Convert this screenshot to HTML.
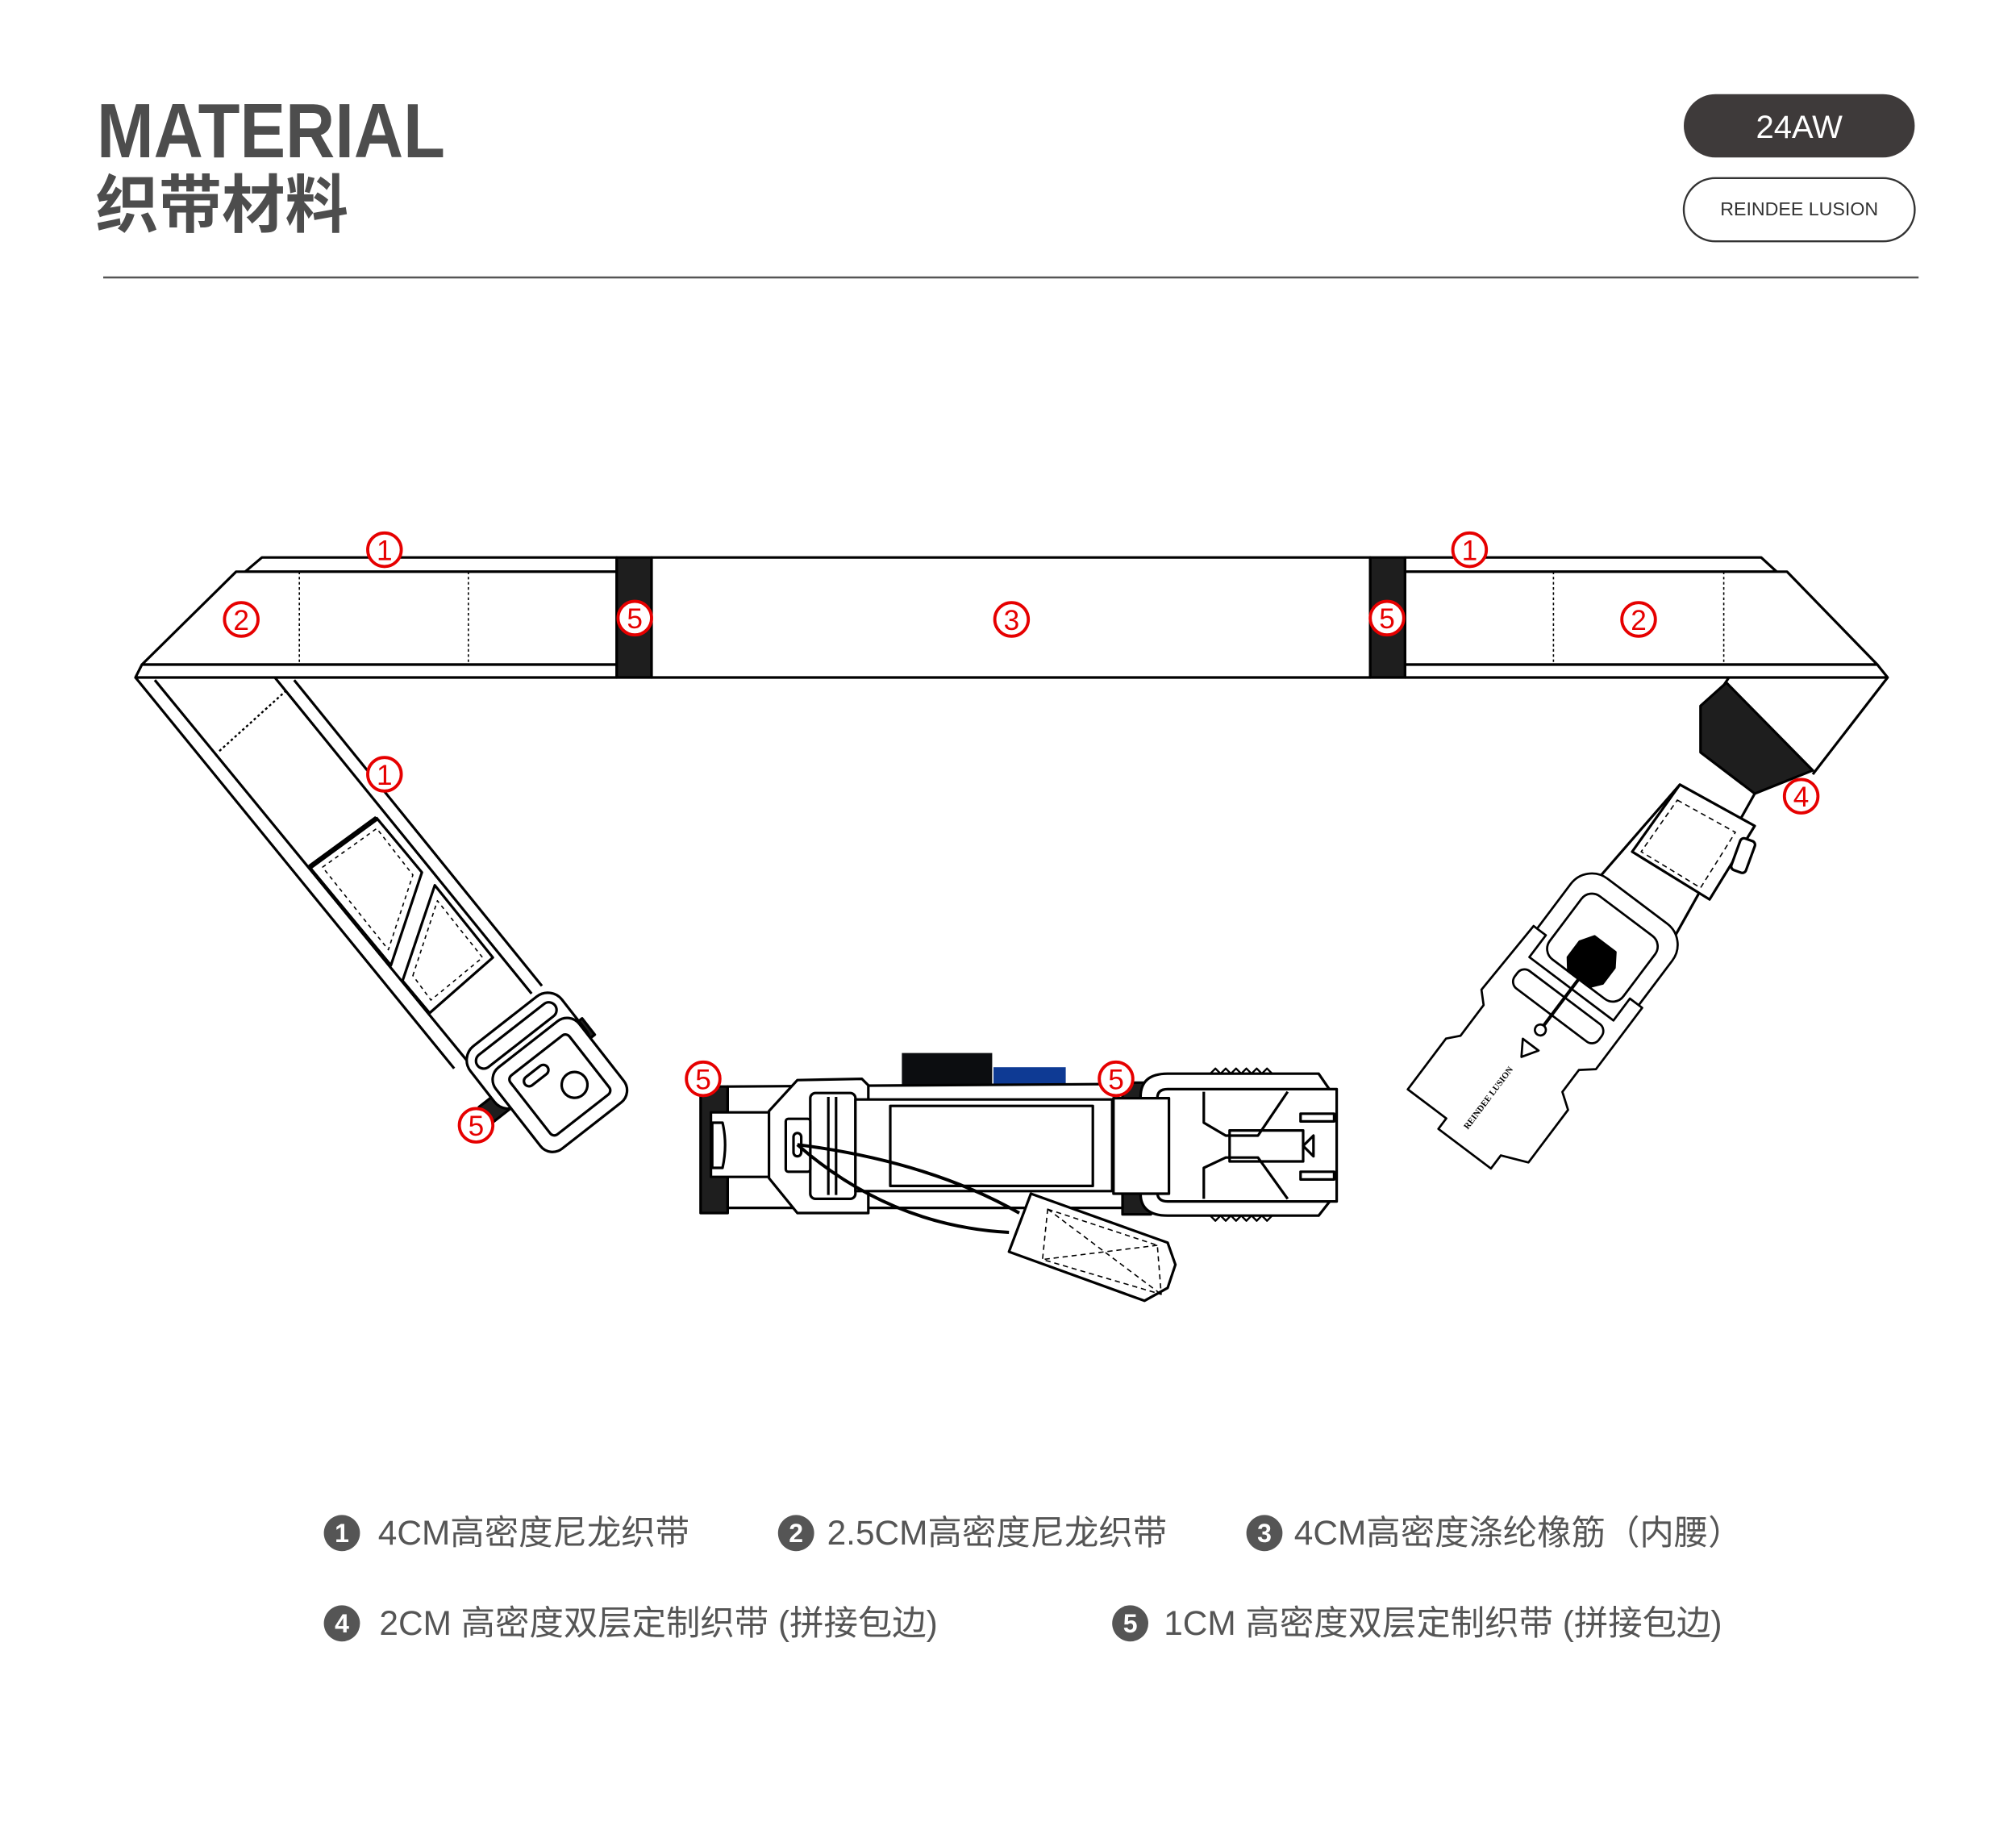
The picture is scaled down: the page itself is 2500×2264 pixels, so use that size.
<!DOCTYPE html>
<html><head><meta charset="utf-8"><style>
html,body{margin:0;padding:0;background:#fff;}
svg{display:block;}
</style></head><body>
<svg width="2500" height="2264" viewBox="0 0 1562.5 1415" preserveAspectRatio="none" xmlns="http://www.w3.org/2000/svg" font-family="'Liberation Sans','Noto Sans CJK SC',sans-serif">
<rect width="1562.5" height="1415" fill="#fff"/>
<!-- header -->
<text x="75" y="122" font-size="60" font-weight="bold" fill="#4d4d4d" textLength="270" lengthAdjust="spacingAndGlyphs">MATERIAL</text>
<text x="74" y="176" font-size="49" font-weight="bold" fill="#4d4d4d">织带材料</text>
<rect x="1305" y="73" width="179" height="49" rx="24.5" fill="#3e3a3a"/>
<text x="1394.5" y="107" font-size="25" fill="#fff" text-anchor="middle">24AW</text>
<rect x="1305" y="138" width="179" height="49" rx="24.5" fill="#fff" stroke="#333" stroke-width="1.5"/>
<text x="1394.5" y="167" font-size="14.5" fill="#333" text-anchor="middle">REINDEE LUSION</text>
<line x1="80" y1="215" x2="1487" y2="215" stroke="#555" stroke-width="1.5"/>

<g stroke="#000" stroke-width="2" fill="#fff" stroke-linejoin="round">
<!-- left strap diagonal -->
<line x1="105" y1="525" x2="352" y2="828"/>
<line x1="120" y1="527" x2="362" y2="822"/>
<line x1="213" y1="525" x2="412" y2="770"/>
<line x1="228" y1="527" x2="420" y2="764"/>
<polyline points="170,582 222,535" stroke-dasharray="2,2" stroke-width="1.5" fill="none"/>
<line x1="240" y1="672" x2="292" y2="634" stroke-width="4"/>
<polygon points="240,672 292,634 327,676 303,748" fill="none"/>
<polygon points="250,672 292,642 320,678 301,736" fill="none" stroke-dasharray="3,3" stroke-width="1"/>
<polygon points="312,760 337,686 382,742 333,785" fill="none"/>
<polygon points="320,756 339,698 374,742 334,775" fill="none" stroke-dasharray="3,3" stroke-width="1"/>
<!-- left buckle -->
<rect x="440" y="793" width="18" height="16" fill="#1e1e1e" transform="rotate(-38 449 801)"/>
<rect x="374" y="850" width="20" height="16" fill="#1e1e1e" transform="rotate(-38 384 858)"/>
<g transform="translate(410,815) rotate(-38)">
<rect x="-45" y="-30" width="90" height="58" rx="14"/>
<rect x="-38" y="-22" width="76" height="12" rx="6"/>
<rect x="-38" y="-5" width="82" height="80" rx="12"/>
<rect x="-26" y="6" width="58" height="58" rx="4"/>
<rect x="-18" y="14" width="22" height="8" rx="4"/>
<circle cx="12" cy="42" r="10"/>
</g>
<!-- top strap left -->
<polygon points="190,443 203,432 478,432 478,443"/>
<polygon points="183,443 478,443 478,515 110,515"/>
<polygon points="110,515 478,515 478,525 105,525"/>
<line x1="232" y1="443" x2="232" y2="515" stroke-dasharray="2,2" stroke-width="1"/>
<line x1="363" y1="443" x2="363" y2="515" stroke-dasharray="2,2" stroke-width="1"/>
<rect x="478" y="432" width="27" height="93" fill="#1e1e1e"/>
<rect x="505" y="432" width="557" height="93"/>
<rect x="1062" y="432" width="27" height="93" fill="#1e1e1e"/>
<polygon points="1089,432 1365,432 1377,443 1089,443"/>
<polygon points="1089,443 1385,443 1455,515 1089,515"/>
<polygon points="1089,515 1455,515 1463,525 1089,525"/>
<line x1="1204" y1="443" x2="1204" y2="515" stroke-dasharray="2,2" stroke-width="1"/>
<line x1="1336" y1="443" x2="1336" y2="515" stroke-dasharray="2,2" stroke-width="1"/>
<!-- right strap -->
<line x1="1340" y1="525" x2="1330" y2="540"/>
<line x1="1463" y1="525" x2="1405" y2="600"/>
<polygon points="1338,529 1318,547 1318,583 1360,615 1405,597" fill="#1e1e1e"/>
<line x1="1302" y1="608" x2="1222" y2="700"/>
<line x1="1360" y1="615" x2="1290" y2="740"/>
<polygon points="1302,608 1360,640 1325,697 1265,660"/>
<polygon points="1300,620 1345,645 1318,688 1272,660" fill="none" stroke-dasharray="4,3" stroke-width="1"/>
<rect x="1345" y="650" width="12" height="26" rx="3" transform="rotate(20 1351 663)"/>
<g transform="translate(1200,790) rotate(37) scale(0.85)">
<rect x="-58" y="-135" width="116" height="105" rx="24"/>
<rect x="-42" y="-118" width="84" height="72" rx="12"/>
<path d="M-62,-60 L-48,-60 L-48,-35 L48,-35 L48,-60 L62,-60 L62,10 L50,20 L50,45 L64,55 L64,115 L40,125 L40,140 L-20,140 L-20,128 L-64,128 L-64,70 L-55,60 L-55,25 L-65,15 Z"/>
<rect x="-48" y="-25" width="96" height="20" rx="8"/>
<polygon points="-8,28 10,28 1,42" fill="#fff"/>
<line x1="0" y1="-68" x2="0" y2="10" stroke-width="3"/>
<circle cx="0" cy="12" r="5"/>
<polygon points="-12,-86 12,-86 20,-74 20,-56 12,-46 -12,-46 -20,-56 -20,-74" fill="#000"/>
<text x="2" y="90" font-size="8" fill="#000" stroke="none" font-family="'Liberation Serif',serif" font-weight="bold" text-anchor="middle" transform="rotate(-90 2 90)">REINDEE LUSION</text>
</g>
<!-- center buckle -->
<rect x="543" y="842" width="21" height="98" fill="#1e1e1e"/>
<rect x="870" y="839" width="22" height="102" fill="#1e1e1e"/>
<rect x="699" y="816" width="70" height="27" fill="#0c0d10" stroke="none"/>
<rect x="770" y="827" width="56" height="15" fill="#0e3a94" stroke="none"/>
<path d="M564,842 L870,840 L870,936 L564,936 Z"/>
<path d="M551,862 L596,862 L596,912 L551,912 Z"/>
<path d="M552,870 L560,870 Q564,887 560,905 L552,905 Z"/>
<path d="M596,861 L618,837 L668,836 L673,841 L673,940 L618,940 L596,913 Z"/>
<rect x="628" y="847" width="35" height="82" rx="4"/>
<line x1="642" y1="850" x2="642" y2="926"/>
<line x1="648" y1="850" x2="648" y2="926"/>
<rect x="609" y="867" width="19" height="41" rx="2"/>
<rect x="615" y="878" width="6" height="18" rx="3"/>
<path d="M663,852 L862,852 L862,923 L663,923 Z"/>
<rect x="690" y="857" width="157" height="62"/>
<path d="M884,850 Q884,832 905,832 L1022,832 L1033,848 L1033,928 L1022,942 L905,942 Q884,942 884,925 Z"/>
<path d="M938,832 l4,-4 l4,4 l4,-4 l4,4 l4,-4 l4,4 l4,-4 l4,4 l4,-4 l4,4 l4,-4 l4,4 M938,942 l4,4 l4,-4 l4,4 l4,-4 l4,4 l4,-4 l4,4 l4,-4 l4,4 l4,-4 l4,4 l4,-4" fill="none" stroke-width="1.5"/>
<path d="M897,851 Q897,844 905,844 L1036,844 L1036,931 L905,931 Q897,931 897,924 Z"/>
<path d="M933,846 L933,870 L950,880 L975,880 L998,846 M933,929 L933,905 L950,897 L975,897 L998,929" fill="none"/>
<rect x="953" y="876" width="57" height="24" fill="none"/>
<polygon points="1010,888 1018,880 1018,896" fill="#fff"/>
<rect x="1008" y="863" width="26" height="6"/>
<rect x="1008" y="908" width="26" height="6"/>
<rect x="863" y="851" width="43" height="74"/>
<path d="M618,887 Q720,900 790,940" fill="none" stroke-width="2.5"/>
<path d="M618,887 Q690,950 782,955" fill="none" stroke-width="2.5"/>
<polygon points="799,925 905,963 911,980 905,998 887,1008 782,970"/>
<polygon points="812,937 897,965 900,1003 808,976" fill="none" stroke-dasharray="4,3" stroke-width="1"/>
<line x1="812" y1="937" x2="900" y2="1003" stroke-dasharray="4,3" stroke-width="1"/>
<line x1="897" y1="965" x2="808" y2="976" stroke-dasharray="4,3" stroke-width="1"/>
</g>

<!-- red markers -->
<g fill="#fff" stroke="#e60000" stroke-width="2.4">
<circle cx="298" cy="426" r="13"/><circle cx="187" cy="480" r="13"/>
<circle cx="492" cy="479" r="13"/><circle cx="784" cy="480" r="13"/>
<circle cx="1075" cy="479" r="13"/><circle cx="1139" cy="426" r="13"/>
<circle cx="1270" cy="480" r="13"/><circle cx="298" cy="600" r="13"/>
<circle cx="1396" cy="617" r="13"/><circle cx="369" cy="872" r="13"/>
<circle cx="545" cy="836" r="13"/><circle cx="865" cy="836" r="13"/>
</g>
<g fill="#e60000" font-size="22" text-anchor="middle">
<text x="298" y="434">1</text><text x="187" y="488">2</text>
<text x="492" y="487">5</text><text x="784" y="488">3</text>
<text x="1075" y="487">5</text><text x="1139" y="434">1</text>
<text x="1270" y="488">2</text><text x="298" y="608">1</text>
<text x="1396" y="625">4</text><text x="369" y="880">5</text>
<text x="545" y="844">5</text><text x="865" y="844">5</text>
</g>

<!-- legend -->
<g fill="#555">
<circle cx="265" cy="1188" r="14"/><circle cx="617" cy="1188" r="14"/><circle cx="980" cy="1188" r="14"/>
<circle cx="265" cy="1258" r="14"/><circle cx="876" cy="1258" r="14"/>
</g>
<g fill="#fff" font-size="20" font-weight="bold" text-anchor="middle">
<text x="265" y="1195">1</text><text x="617" y="1195">2</text><text x="980" y="1195">3</text>
<text x="265" y="1265">4</text><text x="876" y="1265">5</text>
</g>
<g fill="#555" font-size="26.5">
<text x="293" y="1197">4CM高密度尼龙织带</text>
<text x="641" y="1197">2.5CM高密度尼龙织带</text>
<text x="1003" y="1197">4CM高密度涤纶橡筋（内腰）</text>
<text x="294" y="1267">2CM 高密度双层定制织带 (拼接包边)</text>
<text x="902" y="1267">1CM 高密度双层定制织带 (拼接包边)</text>
</g>
</svg>
</body></html>
